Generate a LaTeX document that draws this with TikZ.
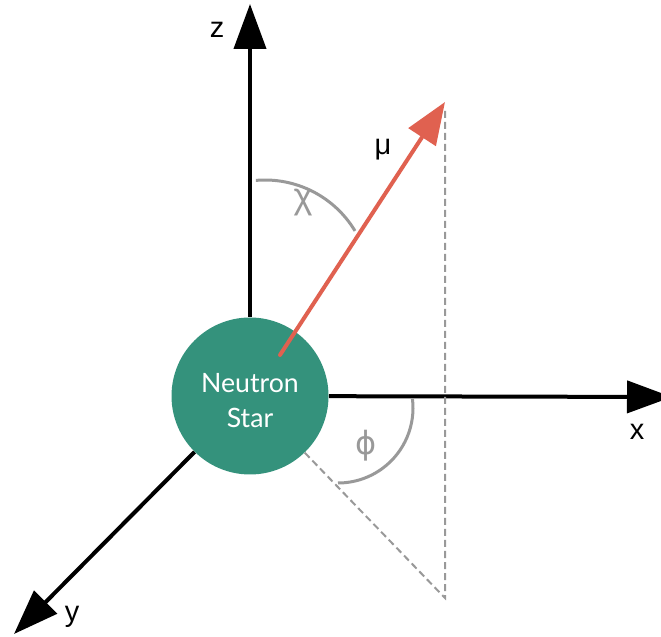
\documentclass[tikz,border=0pt]{standalone}
\usepackage{fontspec}
\setmainfont{Liberation Sans}
\newfontfamily\starfont{Lato}
\newfontfamily\greekfont{DejaVu Sans}
\usetikzlibrary{arrows.meta}
\definecolor{cStar}{HTML}{34927C}
\definecolor{cMu}{HTML}{E06150}
\definecolor{cGuide}{HTML}{999999}

\begin{document}
\begin{tikzpicture}[
    x=0.75pt, y=0.75pt,
    axis/.style={line width=3pt, -{Triangle[length=33.75pt, width=24pt]}},
    moment/.style={line width=3pt, draw=cMu, -{Triangle[length=31.5pt, width=24pt]}},
    guide/.style={draw=cGuide, line width=1.5pt, dash pattern=on 5.25pt off 3pt},
    angarc/.style={draw=cGuide, line width=2.25pt},
    lbl/.style={font=\fontsize{21.7}{26}\selectfont, inner sep=0pt},
    anglbl/.style={inner sep=0pt, text=cGuide},
    star/.style={circle, fill=cStar, minimum size=117.75pt, inner sep=0pt, text=white, align=center, text height=48pt, font=\starfont\fontsize{20}{26.25}\selectfont}
]
\useasboundingbox (0,0) rectangle (661,636);
\clip (0,0) rectangle (661,636);

\node[star] (ns) at (250,240) {Neutron\\Star};

\coordinate (ztip) at (250,632);
\coordinate (xtip) at (672,239);
\coordinate (ytip) at (14,2);
\coordinate (mubase) at (280,281);
\coordinate (mutip) at (445,534);
\coordinate (mutop) at (445,528);
\coordinate (foot) at (445,38);

\draw[axis] (ns) -- (ztip);
\draw[axis] (ns) -- (xtip);
\draw[axis] (ns) -- (ytip);

\draw[guide] (ns) -- (foot) -- (mutop);

\draw[angarc] (265,351) ++(95:105) arc[start angle=95, end angle=31, radius=105];
\draw[angarc] (338,228) ++(7:75) arc[start angle=7, end angle=-90, radius=75];

\draw[moment, line cap=round] (mubase) -- (mutip);

\node[lbl, anchor=base] (zlbl) at (217,598) {z};
\node[lbl, anchor=base] (xlbl) at (637,196) {x};
\node[lbl, anchor=base] (ylbl) at (72,14) {y};
\node[lbl, anchor=base] (mulbl) at (383,481) {μ};
\node[anglbl, font=\fontsize{27}{30}\selectfont] (chilbl) at (303,433) {χ};
\node[anglbl, font=\greekfont\fontsize{24}{28}\selectfont] (philbl) at (366,190) {ϕ};

\end{tikzpicture}
\end{document}
